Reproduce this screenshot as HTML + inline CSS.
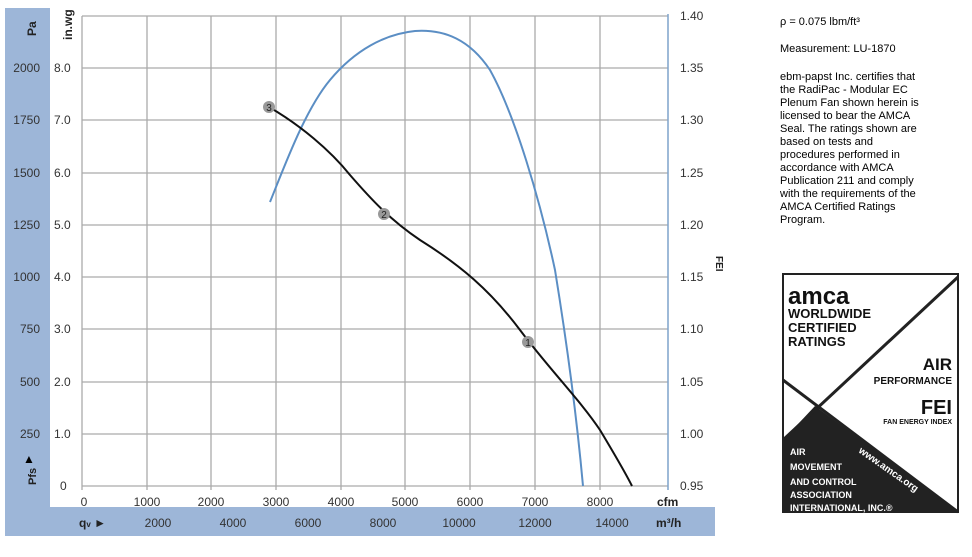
<!DOCTYPE html><html><head><style>body{margin:0;background:#fff;width:972px;height:552px;overflow:hidden;font-family:"Liberation Sans",sans-serif}</style></head><body>
<svg width="972" height="552" xmlns="http://www.w3.org/2000/svg" font-family="Liberation Sans, sans-serif">
<rect x="5" y="8" width="45" height="528" fill="#9db6d8"/>
<rect x="5" y="507" width="710" height="29" fill="#9db6d8"/>
<rect x="50" y="8" width="665" height="499" fill="#fff"/>
<g stroke="#aaa" stroke-width="1.3">
<line x1="82" y1="16" x2="668" y2="16"/><line x1="82" y1="68" x2="668" y2="68"/><line x1="82" y1="120" x2="668" y2="120"/><line x1="82" y1="173" x2="668" y2="173"/><line x1="82" y1="225" x2="668" y2="225"/><line x1="82" y1="277" x2="668" y2="277"/><line x1="82" y1="329" x2="668" y2="329"/><line x1="82" y1="382" x2="668" y2="382"/><line x1="82" y1="434" x2="668" y2="434"/><line x1="82" y1="486" x2="668" y2="486"/>
<line x1="82" y1="16" x2="82" y2="490"/><line x1="147" y1="16" x2="147" y2="490"/><line x1="211" y1="16" x2="211" y2="490"/><line x1="276" y1="16" x2="276" y2="490"/><line x1="341" y1="16" x2="341" y2="490"/><line x1="405" y1="16" x2="405" y2="490"/><line x1="470" y1="16" x2="470" y2="490"/><line x1="535" y1="16" x2="535" y2="490"/><line x1="600" y1="16" x2="600" y2="490"/>
</g>
<line x1="668" y1="14" x2="668" y2="490" stroke="#7fa3cc" stroke-width="1.5"/>
<g font-size="12" fill="#333">
<text x="40" y="72" text-anchor="end">2000</text><text x="40" y="124" text-anchor="end">1750</text><text x="40" y="177" text-anchor="end">1500</text><text x="40" y="229" text-anchor="end">1250</text><text x="40" y="281" text-anchor="end">1000</text><text x="40" y="333" text-anchor="end">750</text><text x="40" y="386" text-anchor="end">500</text><text x="40" y="438" text-anchor="end">250</text>
<text x="54" y="72">8.0</text><text x="54" y="124">7.0</text><text x="54" y="177">6.0</text><text x="54" y="229">5.0</text><text x="54" y="281">4.0</text><text x="54" y="333">3.0</text><text x="54" y="386">2.0</text><text x="54" y="438">1.0</text><text x="60" y="490">0</text>
<g text-anchor="middle"><text x="84" y="506">0</text><text x="147" y="506">1000</text><text x="211" y="506">2000</text><text x="276" y="506">3000</text><text x="341" y="506">4000</text><text x="405" y="506">5000</text><text x="470" y="506">6000</text><text x="535" y="506">7000</text><text x="600" y="506">8000</text>
<text x="158" y="527">2000</text><text x="233" y="527">4000</text><text x="308" y="527">6000</text><text x="383" y="527">8000</text><text x="459" y="527">10000</text><text x="535" y="527">12000</text><text x="612" y="527">14000</text></g>
<g><text x="680" y="20">1.40</text><text x="680" y="72">1.35</text><text x="680" y="124">1.30</text><text x="680" y="177">1.25</text><text x="680" y="229">1.20</text><text x="680" y="281">1.15</text><text x="680" y="333">1.10</text><text x="680" y="386">1.05</text><text x="680" y="438">1.00</text><text x="680" y="490">0.95</text></g>
</g>
<g font-size="12" font-weight="bold" fill="#222">
<text x="657" y="506">cfm</text><text x="656" y="527">m³/h</text>
<text transform="translate(36,36) rotate(-90)">Pa</text>
<text transform="translate(72,40) rotate(-90)">in.wg</text>
<text transform="translate(716,256) rotate(90)" font-size="10">FEI</text>
<text transform="translate(36,485) rotate(-90)" font-size="11">Pfs</text>
<text x="79" y="527">q<tspan font-size="8">v</tspan> ►</text>
</g>
<text x="23" y="463" font-size="12">▲</text>
<path d="M270,202 C285,165 305,110 330,80 C355,50 385,34 415,31 C445,29 470,40 490,70 C515,115 540,200 555,270 C568,350 577,420 583,486" fill="none" stroke="#5b8ec4" stroke-width="2"/>
<path d="M269,107 C300,125 330,150 350,175 C370,198 390,220 420,240 C460,265 490,290 520,330 C550,370 580,400 600,430 C615,455 625,472 632,486" fill="none" stroke="#111" stroke-width="2"/>
<g font-size="10" text-anchor="middle"><circle cx="269" cy="107" r="6" fill="#999"/><text x="269" y="111" fill="#222">3</text><circle cx="384" cy="214" r="6" fill="#999"/><text x="384" y="218" fill="#222">2</text><circle cx="528" cy="342" r="6" fill="#999"/><text x="528" y="346" fill="#222">1</text></g>
<g font-size="11" fill="#000"><text x="780" y="25">ρ = 0.075 lbm/ft³</text><text x="780" y="52">Measurement: LU-1870</text>
<text x="780" y="80">ebm-papst Inc. certifies that</text><text x="780" y="93">the RadiPac - Modular EC</text><text x="780" y="106">Plenum Fan shown herein is</text><text x="780" y="119">licensed to bear the AMCA</text><text x="780" y="132">Seal. The ratings shown are</text><text x="780" y="145">based on tests and</text><text x="780" y="158">procedures performed in</text><text x="780" y="171">accordance with AMCA</text><text x="780" y="184">Publication 211 and comply</text><text x="780" y="197">with the requirements of the</text><text x="780" y="210">AMCA Certified Ratings</text><text x="780" y="223">Program.</text></g>
<rect x="783" y="274" width="175" height="238" fill="#fff" stroke="#222" stroke-width="2"/>
<polygon points="783,440 815,406 958,512 783,512" fill="#222"/>
<line x1="783" y1="380" x2="958" y2="512" stroke="#222" stroke-width="3"/>
<line x1="783" y1="440" x2="958" y2="277" stroke="#222" stroke-width="3"/>
<g font-family="Liberation Sans, sans-serif" font-weight="bold" fill="#111">
<text x="788" y="304" font-size="24">amca</text>
<text x="788" y="318" font-size="13">WORLDWIDE</text><text x="788" y="332" font-size="13">CERTIFIED</text><text x="788" y="346" font-size="13">RATINGS</text>
<text x="952" y="370" font-size="17" text-anchor="end">AIR</text><text x="952" y="384" font-size="10" text-anchor="end">PERFORMANCE</text>
<text x="952" y="414" font-size="20" text-anchor="end">FEI</text><text x="952" y="424" font-size="7" text-anchor="end">FAN ENERGY INDEX</text>
<g fill="#fff" font-size="9"><text x="790" y="455">AIR</text><text x="790" y="470">MOVEMENT</text><text x="790" y="485">AND CONTROL</text><text x="790" y="498">ASSOCIATION</text><text x="790" y="511">INTERNATIONAL, INC.®</text>
<text transform="translate(858,452) rotate(35)" font-size="10">www.amca.org</text></g>
</g>
</svg></body></html>
